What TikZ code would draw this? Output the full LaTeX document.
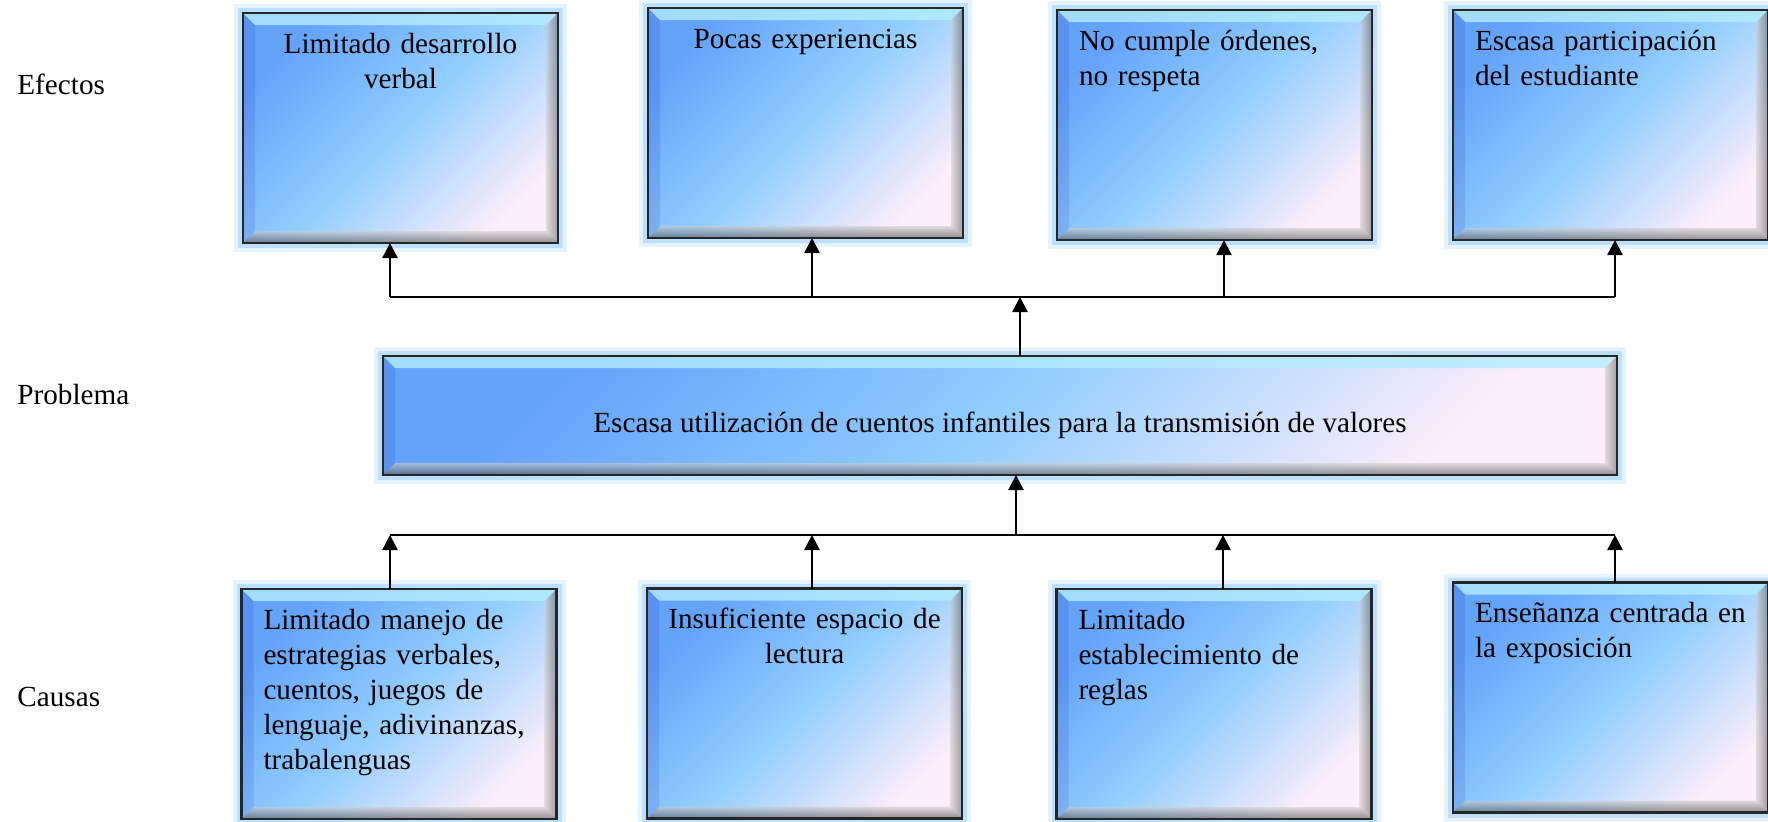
\documentclass[tikz,border=0pt]{standalone}
\usepackage{fontspec}
\setmainfont{Liberation Serif}
\usetikzlibrary{arrows.meta}

\definecolor{cajaosc}{RGB}{100,163,250}
\definecolor{cajamed}{RGB}{146,206,255}
\definecolor{cajacla}{RGB}{252,238,250}
\definecolor{brillo}{RGB}{150,205,255}
\definecolor{biselsup}{RGB}{178,236,255}

\begin{document}
\begin{tikzpicture}[
    x=0.5pt, y=-0.5pt,
    caja/.style={rectangle, draw=black!85, line width=1.2pt, outer sep=0pt,
        top color=cajaosc, bottom color=cajacla, middle color=cajamed, shading angle=45,
        preaction={draw=brillo, line width=9pt, draw opacity=.25},
        preaction={draw=brillo, line width=5pt, draw opacity=.5},
        path picture={
            \path (path picture bounding box.south west) coordinate (bsw)
                  (path picture bounding box.north east) coordinate (bne);
            \fill[biselsup, fill opacity=.8] (bsw |- bne) -- (bne) -- ([shift={(-6pt,-6pt)}]bne)
                -- ([shift={(6pt,-6pt)}]bsw |- bne) -- cycle;
            \shade[top color=black!20, bottom color=black!70, fill opacity=.6] (bsw) -- (bne |- bsw)
                -- ([shift={(-6pt,6pt)}]bne |- bsw) -- ([shift={(6pt,6pt)}]bsw) -- cycle;
            \shade[left color=black!20, right color=black!65, fill opacity=.55] (bne) -- (bne |- bsw)
                -- ([shift={(-6pt,6pt)}]bne |- bsw) -- ([shift={(-6pt,-6pt)}]bne) -- cycle;
            \fill[blue!60!black, fill opacity=.1] (bsw) -- (bsw |- bne)
                -- ([shift={(6pt,-6pt)}]bsw |- bne) -- ([shift={(6pt,6pt)}]bsw) -- cycle;
        },
        font=\fontsize{14.6}{17.5}\selectfont},
    bloque/.style={caja, minimum width=157.5pt, inner xsep=11pt, inner ysep=8pt,
        text width=135.5pt, text height=12pt, text depth=87pt},
    rotulo/.style={font=\fontsize{14.6}{17.5}\selectfont, inner sep=0pt},
    linea/.style={line width=1.3pt},
    flecha/.style={-{Triangle[width=7.5pt,length=7.5pt]}, line width=1.3pt}
]
    \useasboundingbox (0,0) rectangle (1768,821);

    % Rotulos
    \node[rotulo, anchor=base west] (lef) at (17,94) {Efectos};
    \node[rotulo, anchor=base west] (lpr) at (17,404) {Problema};
    \node[rotulo, anchor=base west] (lca) at (17,706) {Causas};

    % Efectos
    \node[bloque, align=center] (e1) at (400.5,128) {Limitado desarrollo\\verbal};
    \node[bloque, align=center] (e2) at (805.5,123) {Pocas experiencias};
    \node[bloque, align=left] (e3) at (1214.5,125) {No cumple órdenes,\\no respeta};
    \node[bloque, align=left] (e4) at (1610.5,125) {Escasa participación\\del estudiante};

    % Problema
    \node[caja, minimum width=617pt, minimum height=59.5pt, inner sep=0pt,
        text height=18pt, text depth=1.5pt] (prob) at (1000,415.5)
        {Escasa utilización de cuentos infantiles para la transmisión de valores};

    % Causas
    \node[bloque, align=left] (c1) at (399,704) {Limitado manejo de\\estrategias verbales,\\cuentos, juegos de\\lenguaje, adivinanzas,\\trabalenguas};
    \node[bloque, align=center, inner xsep=6pt, text width=145.5pt] (c2) at (804.5,703.5) {Insuficiente espacio de\\lectura};
    \node[bloque, align=left] (c3) at (1214,704) {Limitado\\establecimiento de\\reglas};
    \node[bloque, align=left] (c4) at (1610.5,697.5) {Enseñanza centrada en\\la exposición};

    % Linea superior
    \coordinate (s1) at (390,297);
    \coordinate (s2) at (812,297);
    \coordinate (sp) at (1020,297);
    \coordinate (s3) at (1224,297);
    \coordinate (s4) at (1615,297);
    \draw[linea] (s1) -- (s4);
    \draw[flecha] (s1) -- (s1 |- e1.south);
    \draw[flecha] (s2) -- (s2 |- e2.south);
    \draw[flecha] (s3) -- (s3 |- e3.south);
    \draw[flecha] (s4) -- (s4 |- e4.south);
    \draw[flecha] (sp |- prob.north) -- (sp);

    % Linea inferior
    \coordinate (i1) at (390,535);
    \coordinate (i2) at (812,535);
    \coordinate (ip) at (1016,535);
    \coordinate (i3) at (1223,535);
    \coordinate (i4) at (1615,535);
    \draw[linea] (i1) -- (i4);
    \draw[flecha] (i1 |- c1.north) -- (i1);
    \draw[flecha] (i2 |- c2.north) -- (i2);
    \draw[flecha] (i3 |- c3.north) -- (i3);
    \draw[flecha] (i4 |- c4.north) -- (i4);
    \draw[flecha] (ip) -- (ip |- prob.south);
\end{tikzpicture}
\end{document}
